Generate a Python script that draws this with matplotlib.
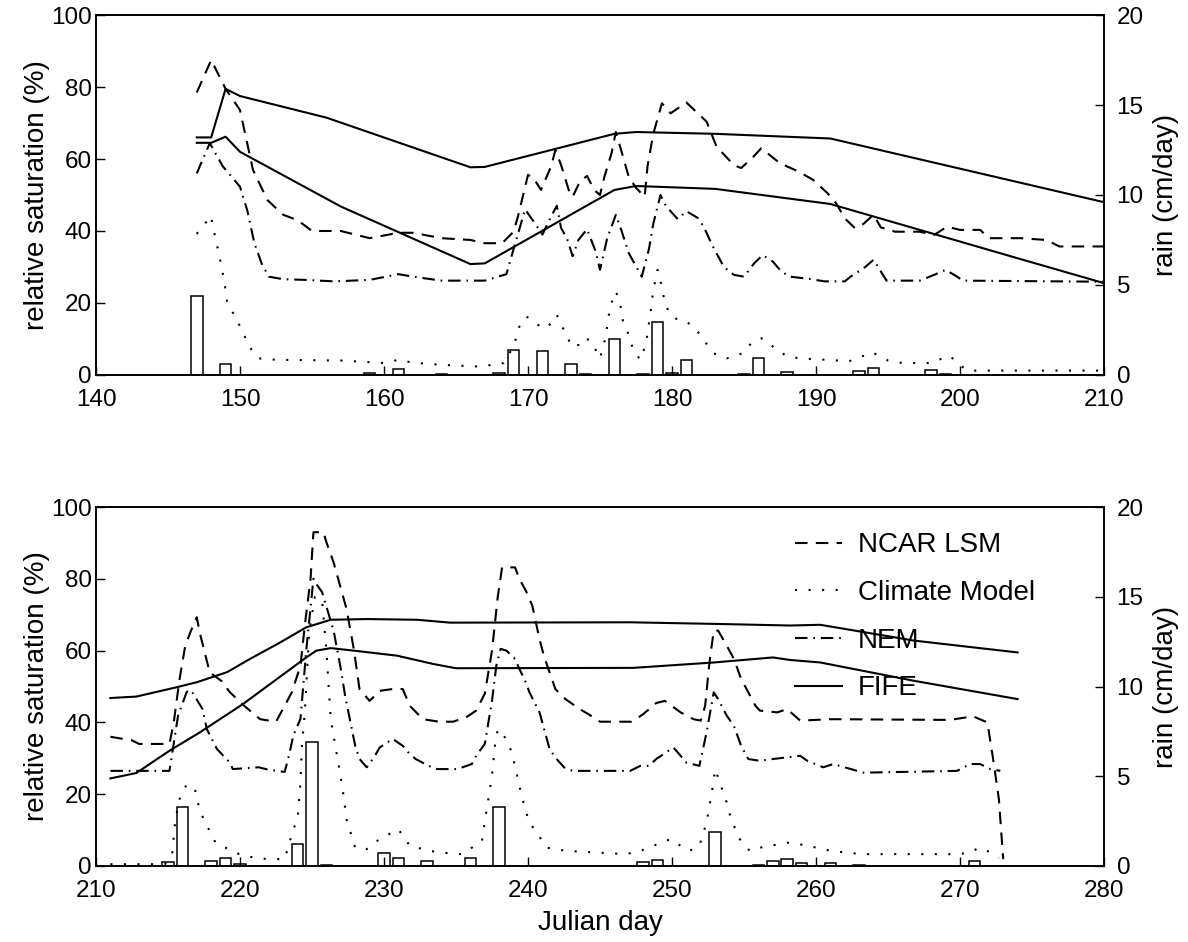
import matplotlib.pyplot as plt
from matplotlib import font_manager

plt.rcParams['font.family'] = ['Liberation Sans', 'DejaVu Sans']

# tick numbers in the original are tall and narrow
_names = {f.name for f in font_manager.fontManager.ttflist}
NARROW = 'Liberation Sans Narrow' in _names
TICK_FAMILY = ['Liberation Sans Narrow', 'DejaVu Sans'] if NARROW else ['Liberation Sans', 'DejaVu Sans']
TICK_SIZE = 20 if NARROW else 17.5

# ---- top panel (days 140-210) ----
fife_a_day1 = [147, 148, 149, 150, 156, 166, 167, 176, 177.5, 183, 191, 210]
fife_a1 = [66, 66, 79.5, 77.5, 71.5, 57.7, 57.8, 67, 67.5, 67, 65.7, 48]
fife_b_day1 = [147, 148, 149, 150, 157, 166, 167, 176, 177.5, 183, 191, 203.5, 210]
fife_b1 = [64.5, 64.5, 66.2, 62, 46.8, 30.8, 31, 51.4, 52.5, 51.7, 47.5, 33, 25.5]

ncar_day1 = [147, 148, 149, 150, 150.9, 151.9, 153, 154, 155, 157, 159, 161, 162, 164, 166,
             167, 168.2, 169, 169.3, 170, 170.4, 170.9, 171.6, 171.9, 172.3, 172.9, 173.1,
             173.6, 174.1, 174.6, 175, 175.3, 175.8, 176.1, 176.5, 177, 177.5, 178.1, 178.3,
             178.7, 179.3, 179.9, 181, 182.4, 183.1, 184.3, 184.8, 185.5, 186.2, 187.5, 188.8,
             189.8, 190.8, 191.4, 192, 192.7, 193.3, 194, 194.5, 195.5, 197.2, 198.2, 199.1,
             200, 201.4, 202, 204.2, 206, 206.9, 210]
ncar1 = [78.5, 87.5, 79.5, 73.6, 57, 48.6, 44.5, 43, 40, 40, 38, 39.5, 39.5, 38, 37.5,
         36.6, 36.6, 39.8, 44, 55.6, 54.6, 51.4, 57.9, 62.5, 58.3, 50.5, 49.5,
         53.7, 55.3, 51.4, 50, 55, 61.6, 67.5, 62, 55, 52, 49.5, 58,
         67, 75.5, 72.7, 75.7, 70.4, 63.4, 58.3, 57.5, 60, 63, 58.8, 56.5,
         54.2, 50.5, 47.7, 43.5, 40.8, 42, 44.5, 41, 39.8, 39.8, 38.9, 41.2,
         40.3, 40.3, 38, 38, 37.5, 35.7, 35.7]

nem_day1 = [147, 147.9, 148.8, 150, 150.5, 151, 151.5, 152, 153, 154.6, 156.5, 159, 161, 162,
            164, 167, 168.5, 169, 169.8, 170.5, 171, 171.6, 172, 172.3, 172.7, 173.1, 173.5,
            174.1, 174.7, 175, 175.5, 176.1, 176.5, 177, 177.9, 178.4, 178.7, 179.2, 179.6,
            180.4, 181, 181.8, 182.2, 182.8, 183.6, 184.3, 185, 185.7, 186.3, 187, 187.6,
            188.2, 189.5, 190.6, 192, 192.4, 193.3, 194, 194.9, 197.2, 198.2, 199, 199.8,
            200.2, 210]
nem1 = [56, 64.4, 58, 52.3, 45.8, 36.6, 31, 27.3, 26.6, 26.4, 26, 26.4, 28, 27.3,
        26.2, 26.2, 28, 35, 46, 42, 39, 44, 47, 40.8, 38, 33, 37.5,
        40.5, 34.3, 29.2, 38, 44.5, 40, 33.8, 27.3, 35, 42, 50, 46.8,
        43.3, 45.5, 43.6, 41.2, 36, 30, 27.8, 27.3, 31, 33.3, 31.5, 28.7,
        27.3, 26.7, 26, 26, 27.3, 29.6, 32, 26.2, 26.2, 27.8, 29.2, 27.3,
        26.2, 25.9]

clim_day1 = [147, 147.5, 148, 148.1, 148.3, 148.6, 148.8, 149, 149.1, 149.4, 149.8, 150.1,
             150.5, 150.8, 151.3, 152.5, 157, 160, 161, 162, 164, 166.7, 168.3, 169, 169.4,
             169.9, 170.4, 171, 171.4, 172, 172.3, 172.7, 173, 173.5, 173.8, 174.3, 174.7,
             175, 175.4, 175.7, 176.1, 176.4, 176.6, 177, 177.3, 177.8, 178.2, 178.5, 178.7,
             179, 179.3, 179.5, 179.9, 180.4, 181, 181.6, 182.2, 182.9, 183.8, 184.9, 185.5,
             186.2, 186.7, 187.3, 188, 188.9, 190.7, 192.3, 193, 193.9, 195, 196, 198, 198.6,
             199.3, 200, 200.6, 210]
clim1 = [39.2, 41.7, 44.2, 41.4, 38, 32.4, 28.3, 23.6, 20.4, 18, 15.3, 12.5,
         9.3, 7, 4.6, 4.2, 4, 3.3, 4.2, 3.4, 2.8, 2.3, 3.3, 7.9, 13.4,
         16.2, 14.8, 13, 13.4, 16.7, 13.9, 11.1, 7.9, 8.3, 10.2, 9.7, 7,
         4.6, 10.7, 19, 23.2, 19.9, 14.8, 11.1, 7, 4.2, 8.8, 17.1, 23.6,
         29.2, 24.5, 19.9, 16.7, 15.3, 14.8, 13, 9.7, 6, 4.6, 6, 8.8,
         10.2, 8.8, 7, 5.1, 4.6, 4.2, 3.8, 4.8, 6.3, 4, 3.3, 3.3, 4.3,
         5.3, 2.6, 1.2, 1.2]

rain_day1 = [147, 149, 159, 161, 164, 168, 169, 171, 173, 174, 176, 178, 179, 180, 181,
             185, 186, 188, 193, 194, 198, 199]
rain1 = [4.4, 0.6, 0.08, 0.34, 0.05, 0.1, 1.38, 1.35, 0.63, 0.05, 1.98, 0.06, 2.95, 0.1,
         0.82, 0.05, 0.96, 0.17, 0.21, 0.38, 0.28, 0.06]

# ---- bottom panel (days 210-280) ----
fife_a_day2 = [211, 212.8, 215.6, 217, 219.1, 220.7, 222.8, 224.6, 226.3, 228.8, 232.3,
               234.6, 247.1, 253.6, 258.2, 260.3, 266.8, 274]
fife_a2 = [46.8, 47.2, 49.8, 51.2, 54, 57.7, 62.3, 66.5, 68.6, 68.8, 68.6,
           67.8, 67.9, 67.4, 67, 67.2, 62.8, 59.5]
fife_b_day2 = [211, 212.8, 215.1, 217.2, 220.2, 224.6, 225.3, 226.3, 227.9, 230.9, 233.4,
               235, 247.3, 252.9, 257, 258.2, 260.3, 266.8, 274]
fife_b2 = [24.4, 25.9, 32.1, 37.2, 45.1, 58.1, 60, 60.7, 60, 58.6, 56.3,
           55.1, 55.2, 56.7, 58.1, 57.4, 56.7, 51.6, 46.5]

ncar_day2 = [211, 212.5, 213, 215.1, 215.4, 215.8, 216.2, 216.6, 217, 217.2, 217.9, 218.7,
             219.3, 220.3, 221.4, 222.5, 223.1, 223.6, 224.2, 224.5, 224.9, 225.1, 225.8,
             226, 226.5, 227.4, 227.9, 228.3, 229, 229.7, 230.6, 231.3, 231.8, 232.7, 233.8,
             234.8, 235.7, 236.4, 237, 237.5, 237.9, 238.2, 239.1, 239.4, 239.9, 240.3,
             240.8, 241.1, 241.9, 242.6, 243.6, 244.2, 245, 247.2, 248, 248.9, 249.5, 250.6,
             251.5, 252, 252.3, 252.6, 252.9, 253.2, 253.8, 254.3, 254.8, 255.3, 255.8,
             256.1, 257.3, 258, 258.9, 261, 269.3, 270.9, 271.9, 272.3, 272.7, 273]
ncar2 = [36, 35, 34, 34, 40, 52, 61.4, 65.6, 69.3, 65.1, 53.9, 51.6,
         48.4, 44.6, 40.9, 40.2, 44.6, 48.4, 55.8, 67, 80, 93, 93,
         90.2, 84.6, 71.6, 60.5, 49.3, 46, 48.8, 49.3, 49.3, 44.6, 40.9, 40.2,
         40.2, 41.4, 43.3, 48, 60, 75, 83.2, 83.2, 80, 76.3, 72.5,
         63.2, 58.6, 49.3, 46.5, 43.7, 42.3, 40.2, 40.2, 42.3, 45.4, 46, 42.8,
         40.9, 40.5, 44.6, 56.7, 65.6, 65.6, 61.4, 57.7, 52.1, 48.4, 44.6,
         43.3, 42.8, 43.7, 40.5, 40.9, 40.7, 41.7, 40, 29.8, 18.6, 1.9]

nem_day2 = [211, 215.1, 215.3, 215.7, 216.3, 216.6, 217.4, 217.7, 218.4, 219.3, 219.5, 221.3,
            222, 223.1, 223.4, 223.7, 224.2, 224.6, 225.1, 225.4, 225.7, 226.5, 227, 227.3,
            228, 228.3, 228.8, 229.3, 229.7, 230.6, 231.3, 231.7, 232.2, 233.1, 233.7, 235.1,
            236.1, 236.4, 237, 237.5, 237.8, 238.1, 238.5, 239.1, 239.4, 239.8, 240.1, 240.8,
            241.5, 241.9, 242.5, 243.1, 247.1, 247.8, 248.4, 248.9, 250.1, 250.6, 251, 251.9,
            252.4, 252.9, 253.2, 253.8, 254.3, 254.8, 255.3, 256.1, 257, 258.9, 259.4, 260.5,
            261.2, 263.3, 269.8, 270.7, 271.4, 272.1, 272.8]
nem2 = [26.5, 26.5, 31.6, 41.9, 48.5, 49, 43.7, 38.1, 32.6, 28.8, 27, 27.5,
        26.8, 26.2, 30.7, 36.3, 41, 60, 80, 78, 76.3, 65.6, 54.9, 47.4,
        33.5, 29.8, 27.5, 30.2, 33, 35.4, 33.5, 31.6, 29.8, 27.9, 27, 27,
        28.4, 30.7, 34, 46, 55.8, 60.5, 60, 57.7, 54.9, 51.6, 48.4, 42.8,
        32.6, 30.2, 27.5, 26.5, 26.5, 27.9, 27.9, 29.8, 33, 30.7, 28.8, 27.9,
        37.2, 48.4, 46.5, 41.9, 39, 33.5, 29.8, 29.3, 29.8, 30.7, 29.3, 27.5,
        28.4, 26, 26.5, 28.4, 28.4, 27, 26.5]

clim_day2 = [211, 214.8, 215.3, 215.5, 215.8, 216.3, 216.9, 217.2, 217.6, 218.3, 219, 220.2,
             221.9, 223.1, 223.7, 224, 224.2, 224.3, 224.5, 224.8, 225.2, 225.7, 226, 226.3,
             226.7, 227.1, 227.4, 228, 228.8, 229.7, 231, 231.8, 233.2, 234.1, 235.3, 236.1,
             236.8, 237.1, 237.5, 237.7, 237.9, 238.4, 238.75, 239.1, 239.4, 239.8, 240.1,
             240.6, 241.3, 242.7, 246.8, 247.8, 248.7, 249.9, 250.6, 251.2, 251.9, 252.4,
             252.8, 253, 253.4, 253.8, 254.1, 254.7, 255.4, 256.1, 258, 259.6, 260.3, 262.1,
             263.3, 269.8, 270.7, 271.3, 271.9, 272.7]
clim2 = [0.5, 0.5, 3.7, 12.6, 18.6, 22.8, 20.9, 15.4, 12.1, 6.5, 5.1, 2.8,
         1.9, 1.9, 10.2, 13, 23.3, 33.5, 42.8, 65, 75, 74, 60, 41,
         31.6, 22.3, 13, 5.1, 4.7, 7.5, 10.2, 5.6, 4.2, 3.7, 3.3, 5.1,
         7, 14.9, 25.1, 33.5, 38.1, 35.8, 33, 27.9, 22.3, 15.8, 12.1,
         9.3, 5.1, 4.2, 3.3, 4.2, 5.6, 7.5, 5.6, 4.2, 5.6, 12.1,
         21.4, 27, 22.3, 17.7, 13, 7.5, 4.2, 5.1, 6.5, 5.6, 4.7, 3.7,
         3.3, 3.3, 3.7, 5.1, 4.2, 2.3]

rain_day2 = [215, 216, 218, 219, 220, 224, 225, 226, 230, 231, 233, 236, 238, 248, 249,
             253, 256, 257, 258, 259, 261, 263, 271]
rain2 = [0.2, 3.3, 0.25, 0.42, 0.1, 1.2, 6.9, 0.07, 0.75, 0.45, 0.25, 0.45, 3.3, 0.2, 0.35,
         1.87, 0.07, 0.25, 0.38, 0.18, 0.15, 0.03, 0.3]

DASH = (0, (6, 4))
DOT = (0, (1, 5.5))
DASHDOT = (0, (6, 2.8, 0.8, 2.8))
LW = 1.5


def draw_panel(ax, fa, fb, ncar, nem, clim, rain_day, rain, x0):
    axr = ax.twinx()
    axr.bar(rain_day, rain, width=0.8, facecolor='white', edgecolor='black', linewidth=1.1)
    axr.set_ylim(0, 20)
    axr.set_yticks([0, 5, 10, 15, 20])
    axr.set_ylabel('rain (cm/day)', fontsize=20, labelpad=7)
    axr.tick_params(direction='in', length=6.5, width=1, pad=9)

    ax.set_zorder(axr.get_zorder() + 1)
    ax.patch.set_visible(False)
    ax.plot(*ncar, color='black', lw=LW, linestyle=DASH, label='NCAR LSM')
    ax.plot(*clim, color='black', lw=LW, linestyle=DOT, label='Climate Model')
    ax.plot(*nem, color='black', lw=LW, linestyle=DASHDOT, label='NEM')
    ax.plot(*fa, color='black', lw=LW, label='FIFE')
    ax.plot(*fb, color='black', lw=LW)
    ax.set_xlim(x0, x0 + 70)
    ax.set_ylim(0, 100)
    ax.set_xticks(range(x0, x0 + 71, 10))
    ax.set_yticks(range(0, 101, 20))
    ax.set_ylabel('relative saturation (%)', fontsize=20, labelpad=1)
    ax.tick_params(direction='in', length=6.5, width=1)
    ax.tick_params(axis='x', pad=10)
    ax.tick_params(axis='y', pad=3)
    for lab in ax.get_xticklabels() + ax.get_yticklabels() + axr.get_yticklabels():
        lab.set_family(TICK_FAMILY)
        lab.set_size(TICK_SIZE)
    for a in (ax, axr):
        for s in a.spines.values():
            s.set_linewidth(1.2)
    return axr


fig = plt.figure(figsize=(11.88, 9.42), dpi=100)
ax1 = fig.add_axes([0.0808, 0.602, 0.8485, 0.382])
ax2 = fig.add_axes([0.0808, 0.0807, 0.8485, 0.381])

draw_panel(ax1, (fife_a_day1, fife_a1), (fife_b_day1, fife_b1), (ncar_day1, ncar1),
           (nem_day1, nem1), (clim_day1, clim1), rain_day1, rain1, 140)
draw_panel(ax2, (fife_a_day2, fife_a2), (fife_b_day2, fife_b2), (ncar_day2, ncar2),
           (nem_day2, nem2), (clim_day2, clim2), rain_day2, rain2, 210)
ax2.set_xlabel('Julian day', fontsize=20, labelpad=6)

leg = ax2.legend(loc='upper left', bbox_to_anchor=(0.688, 0.945), frameon=False,
                 fontsize=20, handlelength=1.7, handletextpad=0.55, labelspacing=0.78,
                 borderaxespad=0, borderpad=0.2)
leg.set_zorder(1)

fig.savefig('out.png', dpi=100)
